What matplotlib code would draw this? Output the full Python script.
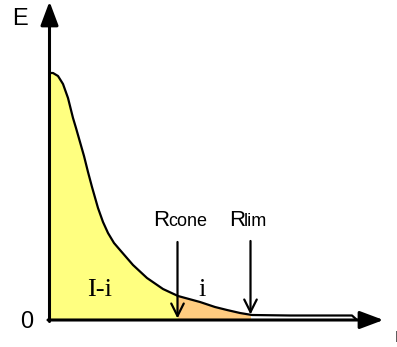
import numpy as np
import matplotlib
matplotlib.use("Agg")
import matplotlib.pyplot as plt

# Curve data (radius r, energy E) in diagram units
r_vals = [0, 3.5, 8.5, 13.5, 18.5, 23.5, 26.5, 30.5, 34.5, 38.5, 42.5, 48.5, 53.5,
          58.5, 64.5, 70.5, 83.5, 97.5, 113.5, 128.5, 150.5, 165.5, 177.5, 190.5, 202.5,
          240.5, 302.5, 307.5]
E_vals = [247, 247, 244, 236, 222, 202, 192, 178, 164, 148, 133, 112, 98,
          87, 77, 70, 55, 42, 31, 24, 18, 13, 10, 7, 5,
          4.5, 4.5, 0]
R_cone = 128
R_lim = 201
axis_labels = ["E", "0"]
region_labels = ["I-i", "i"]

r = np.array(r_vals, dtype=float)
E = np.array(E_vals, dtype=float)

fig = plt.figure(figsize=(3.97, 3.47), dpi=100)
ax = fig.add_axes([0, 0, 1, 1])
ax.set_xlim(-49.5, 347.5)
ax.set_ylim(-27, 320)
ax.axis("off")

def region(a, b):
    m = (r > a) & (r < b)
    xs = np.concatenate([[a], r[m], [b]])
    ys = np.concatenate([[np.interp(a, r, E)], E[m], [np.interp(b, r, E)]])
    return xs, ys

xs, ys = region(0, R_cone)
ax.fill_between(xs, 0, ys, color="#FFFF80", lw=0, zorder=1)
xs, ys = region(R_cone, R_lim)
ax.fill_between(xs, 0, ys, color="#FFCC80", lw=0, zorder=1)

ax.plot(r, E, color="black", lw=1.6, zorder=3, solid_capstyle="butt",
        solid_joinstyle="round")

# axes arrows
for xy, xyt in [((0, 318.5), (0, -1.5)), ((334, 0), (-1.5, 0))]:
    ax.annotate("", xy=xy, xytext=xyt,
                arrowprops=dict(arrowstyle="-|>,head_length=0.72,head_width=0.27",
                                mutation_scale=20, lw=2.2, color="black",
                                shrinkA=0, shrinkB=0), zorder=4)

# R arrows
for xr, top, tip in [(R_cone, 78, 1.5), (R_lim, 79, 5.5)]:
    ax.annotate("", xy=(xr, tip), xytext=(xr, top),
                arrowprops=dict(arrowstyle="->,head_length=0.9,head_width=0.45",
                                mutation_scale=10, lw=1.6, color="black",
                                shrinkA=0, shrinkB=0), zorder=5)

sans = "Liberation Sans"
serif = "Liberation Serif"
ax.text(-29.8, 301, axis_labels[0], fontsize=17, family=sans, ha="center", va="center")
ax.text(-23, -1.5, axis_labels[1], fontsize=17, family=sans, ha="center", va="center")
ax.text(50.5, 29.5, region_labels[0], fontsize=19, family=serif, ha="center", va="center", zorder=6)
ax.text(153, 29.5, region_labels[1], fontsize=19, family=serif, ha="center", va="center", zorder=6)

ax.text(103.5, 94, "R", fontsize=16, family=sans, ha="left", va="baseline")
ax.text(118.5, 94, "cone", fontsize=13, family=sans, ha="left", va="baseline")
ax.text(179.5, 94, "R", fontsize=16, family=sans, ha="left", va="baseline")
ax.text(194.5, 94, "lim", fontsize=13, family=sans, ha="left", va="baseline")
ax.text(345.5, -22, "r", fontsize=15, family=sans, ha="left", va="baseline")

fig.savefig("out.png", dpi=100)
